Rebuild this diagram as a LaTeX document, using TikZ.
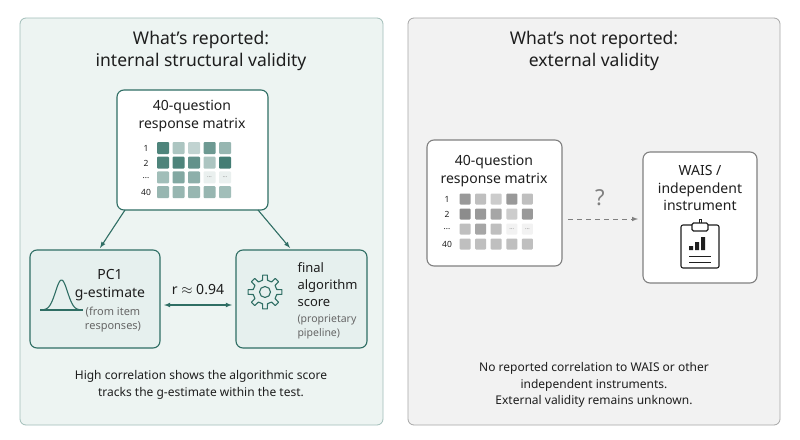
\documentclass[tikz,border=0pt]{standalone}
\usepackage{fontspec}
\setmainfont{Noto Sans}
\usetikzlibrary{calc,arrows.meta}
\definecolor{teal}{HTML}{2F6E64}
\definecolor{tealbg}{HTML}{EDF4F2}
\definecolor{tealbox}{HTML}{E6F0EE}
\definecolor{greybg}{HTML}{F2F2F2}
\definecolor{greyln}{HTML}{808080}
\definecolor{ink}{HTML}{1E1E1E}
\tikzset{
  panel/.style={rounded corners=6pt,line width=0.8pt},
  card/.style={rounded corners=7pt,line width=1.1pt},
  title/.style={font=\fontsize{17.5}{22}\selectfont,text=ink,align=center},
  boxtext/.style={font=\fontsize{14}{17.5}\selectfont,text=ink,align=center},
  small/.style={font=\fontsize{11}{14}\selectfont,text=black!60},
  caption/.style={font=\fontsize{12}{16.5}\selectfont,text=ink,align=center},
  rowlbl/.style={font=\fontsize{8.5}{9}\selectfont,text=ink},
  cell/.style={minimum size=12pt,inner sep=0pt,rounded corners=1pt},
}
\begin{document}
\begin{tikzpicture}[x=1pt,y=-1pt,>=latex]
\useasboundingbox (0,0) rectangle (800,439);
\fill[white] (0,0) rectangle (800,439);

	% panels
	\draw[panel,draw=teal!45,fill=tealbg] (20,18) rectangle (383,425);
	\draw[panel,draw=greyln!70,fill=greybg] (408,18) rectangle (780,425);

	% titles
	\node[title] (ltitle) at (201,51) {What’s reported:\\internal structural validity};
	\node[title] (rtitle) at (594,51) {What’s not reported:\\external validity};

	% left matrix
	\draw[card,draw=teal,fill=white] (117,90) rectangle (268,210);
	\node[boxtext] (lmat) at (192,116) {40-question\\response matrix};
	\foreach \r/\lab [count=\i] in {148/1,163/2,178/{\dots},192/40}
		\node[rowlbl] (llab\i) at (146,\r) {\lab};
	\foreach \c/\o [count=\k] in {1/85,2/40,3/30,4/70,5/50,
	                          6/85,7/85,8/75,9/40,10/90,
	                          11/45,12/60,13/55,14/0,15/0,
	                          16/50,17/50,18/50,19/50,20/45}{
		\pgfmathtruncatemacro\row{int((\k-1)/5)}
		\pgfmathtruncatemacro\col{mod(\k-1,5)}
		\ifnum\o=0
			\node[cell,fill=teal!10,font=\fontsize{6}{6}\selectfont,text=black!50] (lc\k) at (163+15.5*\col,{148+14.7*\row}) {\dots};
		\else
			\node[cell,fill=teal!\o] (lc\k) at (163+15.5*\col,{148+14.7*\row}) {};
		\fi
	}

	% PC1 box
	\draw[card,draw=teal,fill=tealbox] (30,250) rectangle (160,348);
	\draw[teal,line width=1.1pt] (40,310) -- (83,310);
	\draw[teal,line width=1.1pt,domain=-21:21,samples=60,smooth] plot ({61.5+\x},{310-30*exp(-(\x/8.5)^2)});
	\node[boxtext] (pc1) at (110,285) {PC1\\g-estimate};
	\node[small,align=center] (pc1s) at (113,320) {(from item\\responses)};

	% score box
	\draw[card,draw=teal,fill=tealbox] (236,250) rectangle (367,348);
	\coordinate (gear) at (265,292);
	\draw[teal,line width=1.1pt,line join=round] ($(gear)+(-12:12)$) \foreach \a in {0,45,...,315}{
		-- ($(gear)+(\a-12:12)$) -- ($(gear)+(\a-8:17)$) -- ($(gear)+(\a+8:17)$) -- ($(gear)+(\a+12:12)$)} -- cycle;
	\draw[teal,line width=1.1pt] (gear) circle (5.5);
	\node[boxtext,font=\fontsize{13}{17}\selectfont,align=left,anchor=west] (final) at (294,285) {final\\algorithm\\score};
	\node[small,font=\fontsize{10.5}{14}\selectfont,align=left,anchor=west] (finals) at (294,327) {(proprietary\\pipeline)};

	% arrows
	\coordinate (mbl) at (125,210);
	\coordinate (mbr) at (258,210);
	\coordinate (pct) at (100,248);
	\coordinate (sct) at (290,248);
	\draw[->,teal,line width=1.1pt] (mbl) -- (pct);
	\draw[->,teal,line width=1.1pt] (mbr) -- (sct);
	\coordinate (pcr) at (164,305);
	\coordinate (scl) at (232,305);
	\draw[<->,teal,line width=1.1pt] (pcr) -- (scl);
	\node[boxtext] (rval) at (198,290) {r $\approx$ 0.94};

	\node[caption] (lcap) at (201,385) {High correlation shows the algorithmic score\\tracks the g-estimate within the test.};

	% right matrix
	\draw[card,draw=greyln,fill=white] (427,140) rectangle (562,266);
	\node[boxtext] (rmat) at (494,171) {40-question\\response matrix};
	\foreach \r/\lab [count=\i] in {199/1,214/2,229/{\dots},244/40}
		\node[rowlbl] (rlab\i) at (447,\r) {\lab};
	\foreach \c/\o [count=\k] in {1/40,2/25,3/20,4/40,5/25,
	                          6/45,7/40,8/35,9/20,10/40,
	                          11/25,12/35,13/25,14/0,15/0,
	                          16/25,17/25,18/25,19/25,20/25}{
		\pgfmathtruncatemacro\row{int((\k-1)/5)}
		\pgfmathtruncatemacro\col{mod(\k-1,5)}
		\ifnum\o=0
			\node[cell,minimum size=11pt,fill=black!5,font=\fontsize{6}{6}\selectfont,text=black!50] (rc\k) at (465+15.6*\col,{199+15*\row}) {\dots};
		\else
			\node[cell,minimum size=11pt,fill=black!\o] (rc\k) at (465+15.6*\col,{199+15*\row}) {};
		\fi
	}

	% WAIS box
	\draw[card,draw=greyln,fill=white] (643,152) rectangle (757,283);
	\node[boxtext] (wais) at (700,188) {WAIS /\\independent\\instrument};
	\draw[ink,line width=1.1pt,rounded corners=2pt] (681,225) rectangle (719,268);
	\draw[ink,line width=1.1pt,fill=white,rounded corners=1.5pt] (692,223) rectangle (708,231);
	\draw[ink,line width=1pt] (699,223) -- (699,219) -- (701,219) -- (701,223);
	\fill[ink] (689,246) rectangle (693,250) (695,242) rectangle (699,250) (701,237) rectangle (705,250);
	\draw[ink,line width=1pt] (689,256) -- (711,256) (689,262) -- (711,262);

	% dashed connector
	\coordinate (rmr) at (568,219);
	\coordinate (wl) at (638,219);
	\draw[->,greyln,line width=1pt,dash pattern=on 5pt off 4pt] (rmr) -- (wl);
	\node[font=\fontsize{22}{24}\selectfont\bfseries,text=greyln] (q) at (600,198) {?};

	\node[caption] (rcap) at (594,385) {No reported correlation to WAIS or other\\independent instruments.\\External validity remains unknown.};
\end{tikzpicture}
\end{document}
